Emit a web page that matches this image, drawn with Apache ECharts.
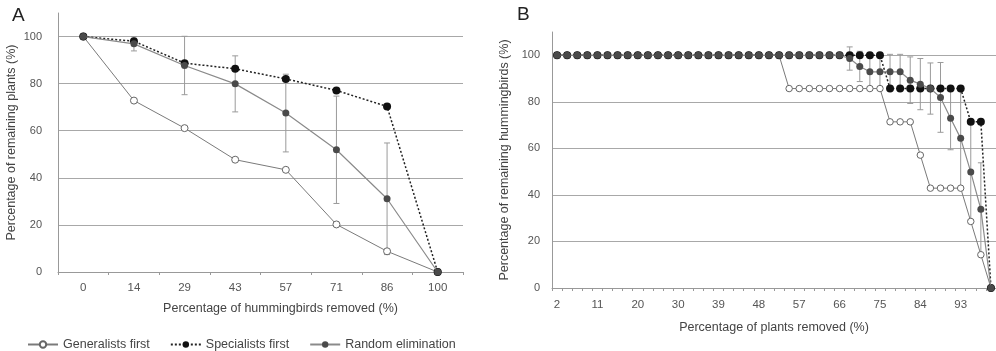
<!DOCTYPE html>
<html><head><meta charset="utf-8">
<script src="https://cdn.jsdelivr.net/npm/echarts@6/dist/echarts.min.js"></script>
<style>html,body{margin:0;padding:0;background:#fff}#c{width:996px;height:351px}</style>
</head><body><div id="c"></div>
<script>
// ---------- Panel A ----------
const catsA = ['0','14','29','43','57','71','86','100'];
const genA  = [100, 72.8, 61.1, 47.7, 43.4, 20.2, 8.8, 0];
const specA = [100, 98.0, 88.7, 86.3, 82.0, 77.1, 70.3, 0];
const randA = [100, 96.9, 87.7, 79.9, 67.5, 51.9, 31.1, 0];
const errA  = [null, 3, 12.4, 11.9, 16.5, 22.8, 23.7, null];

// ---------- Panel B ----------
const catsB = ['2','5','7','9','11','14','16','18','20','23','25','27','30','32','34','36','39','41','43','45','48','50','52','55','57','59','61','64','66','68','70','73','75','77','80','82','84','86','89','91','93','95','98','100'];
const genB  = [100,100,100,100,100,100,100,100,100,100,100,100,100,100,100,100,100,100,100,100,100,100,100,
               85.7,85.7,85.7,85.7,85.7,85.7,85.7,85.7,85.7,85.7,
               71.4,71.4,71.4,57.1,42.9,42.9,42.9,42.9,28.6,14.3,0];
const specB = [100,100,100,100,100,100,100,100,100,100,100,100,100,100,100,100,100,100,100,100,100,100,100,
               100,100,100,100,100,100,100,100,100,100,
               85.7,85.7,85.7,85.7,85.7,85.7,85.7,85.7,71.4,71.4,0];
const randB = [100,100,100,100,100,100,100,100,100,100,100,100,100,100,100,100,100,100,100,100,100,100,100,
               100,100,100,100,100,100,98.6,95.2,92.9,92.9,92.9,92.9,89.3,87.6,85.7,81.9,72.9,64.3,49.8,33.8,0];
const errB  = [null,null,null,null,null,null,null,null,null,null,null,null,null,null,null,null,null,null,null,null,null,null,null,
               null,null,null,null,null,null,5,6.5,7,7,7.5,7.5,10,11,11,15,13.5,22,21,20,null];

const yTicks = [0, 20, 40, 60, 80, 100];

const names = ['Generalists first', 'Specialists first', 'Random elimination'];
const FONT = '"Liberation Sans", Arial, sans-serif';

function errData(vals, errs) {
  const out = [];
  vals.forEach((v, i) => { if (errs[i] != null) out.push([i, v, errs[i]]); });
  return out;
}
function errSeries(idx, vals, errs) {
  return {
    type: 'custom', xAxisIndex: idx, yAxisIndex: idx, z: 1, silent: true,
    data: errData(vals, errs),
    renderItem: function (params, api) {
      const i = api.value(0), v = api.value(1), e = api.value(2);
      const top = api.coord([i, v + e]);
      const bot = api.coord([i, v - e]);
      const w = 3;
      const st = { stroke: '#9a9a9a', lineWidth: 1 };
      return { type: 'group', children: [
        { type: 'line', shape: { x1: top[0], y1: top[1], x2: bot[0], y2: bot[1] }, style: st },
        { type: 'line', shape: { x1: top[0]-w, y1: top[1], x2: top[0]+w, y2: top[1] }, style: st },
        { type: 'line', shape: { x1: bot[0]-w, y1: bot[1], x2: bot[0]+w, y2: bot[1] }, style: st }
      ]};
    }
  };
}
function lineSeries(idx, kind, data, big) {
  const base = { type: 'line', xAxisIndex: idx, yAxisIndex: idx, data: data, symbol: 'circle',
    showAllSymbol: true, animation: false };
  if (kind === 0) return Object.assign(base, { name: names[0], z: 2, symbolSize: big ? 7 : 6.5,
    lineStyle: { color: '#7a7a7a', width: 1 }, itemStyle: { color: '#ffffff', borderColor: '#666', borderWidth: 1 } });
  if (kind === 1) return Object.assign(base, { name: names[1], z: 3, symbolSize: big ? 8 : 8,
    lineStyle: { color: '#222', width: 1.5, type: [2, 2] }, itemStyle: { color: '#111', borderColor: '#111', borderWidth: 0 } });
  return Object.assign(base, { name: names[2], z: 4, symbolSize: big ? 7 : 7,
    lineStyle: { color: '#8a8a8a', width: 1.2 }, itemStyle: { color: '#4a4a4a', borderColor: '#4a4a4a', borderWidth: 0 } });
}

const yAxisCommon = (idx, gap, name, labelMargin) => ({
  type: 'value', gridIndex: idx, min: 0, max: 110, interval: 20,
  name: name, nameLocation: 'middle', nameGap: gap, nameRotate: 90,
  nameTextStyle: { fontFamily: FONT, fontSize: 12.5, color: '#444' },
  axisLine: { show: true, lineStyle: { color: '#999', width: 1 } },
  axisTick: { show: false },
  axisLabel: { fontFamily: FONT, fontSize: 11, color: '#555', margin: labelMargin, showMaxLabel: false,
    formatter: v => (yTicks.indexOf(v) >= 0 ? String(v) : '') },
  splitLine: { show: true, showMaxLine: false, lineStyle: { color: '#a8a8a8', width: 1 } }
});

const chart = echarts.init(document.getElementById('c'), null, { renderer: 'canvas' });
chart.setOption({
  animation: false,
  backgroundColor: '#fff',
  textStyle: { fontFamily: FONT },
  grid: [
    { left: 58, top: 13, width: 405, height: 259 },
    { left: 552, top: 32, width: 444, height: 256 }
  ],
  xAxis: [
    { type: 'category', gridIndex: 0, data: catsA, boundaryGap: true,
      name: 'Percentage of hummingbirds removed (%)', nameLocation: 'middle', nameGap: 30,
      nameTextStyle: { fontFamily: FONT, fontSize: 12.5, color: '#444', padding: [0, 0, 0, 40] },
      axisLine: { lineStyle: { color: '#999' } },
      axisTick: { show: true, length: 3, lineStyle: { color: '#999' } },
      axisLabel: { fontFamily: FONT, fontSize: 11.5, color: '#555', margin: 10 } },
    { type: 'category', gridIndex: 1, data: catsB, boundaryGap: true,
      name: 'Percentage of plants removed (%)', nameLocation: 'middle', nameGap: 33,
      nameTextStyle: { fontFamily: FONT, fontSize: 12.5, color: '#444' },
      axisLine: { lineStyle: { color: '#999' } },
      axisTick: { show: true, length: 3, interval: 0, lineStyle: { color: '#999' } },
      axisLabel: { fontFamily: FONT, fontSize: 11.5, color: '#555', margin: 11, interval: 3 } }
  ],
  yAxis: [
    yAxisCommon(0, 40, 'Percentage of remaining plants (%)', 16),
    yAxisCommon(1, 41, 'Percentage of remaining hummingbirds (%)', 12)
  ],
  legend: {
    left: 22, top: 333, itemWidth: 30, itemHeight: 8, itemGap: 20,
    textStyle: { fontFamily: FONT, fontSize: 12.5, color: '#444' },
    data: names
  },
  graphic: [
    { type: 'text', left: 12, top: 6, style: { text: 'A', font: '19px ' + FONT, fill: '#222' } },
    { type: 'text', left: 517, top: 5, style: { text: 'B', font: '19px ' + FONT, fill: '#222' } }
  ],
  series: [
    errSeries(0, randA, errA),
    lineSeries(0, 0, genA, true),
    lineSeries(0, 1, specA, true),
    lineSeries(0, 2, randA, true),
    errSeries(1, randB, errB),
    lineSeries(1, 0, genB, false),
    lineSeries(1, 1, specB, false),
    lineSeries(1, 2, randB, false)
  ]
});
</script></body></html>
